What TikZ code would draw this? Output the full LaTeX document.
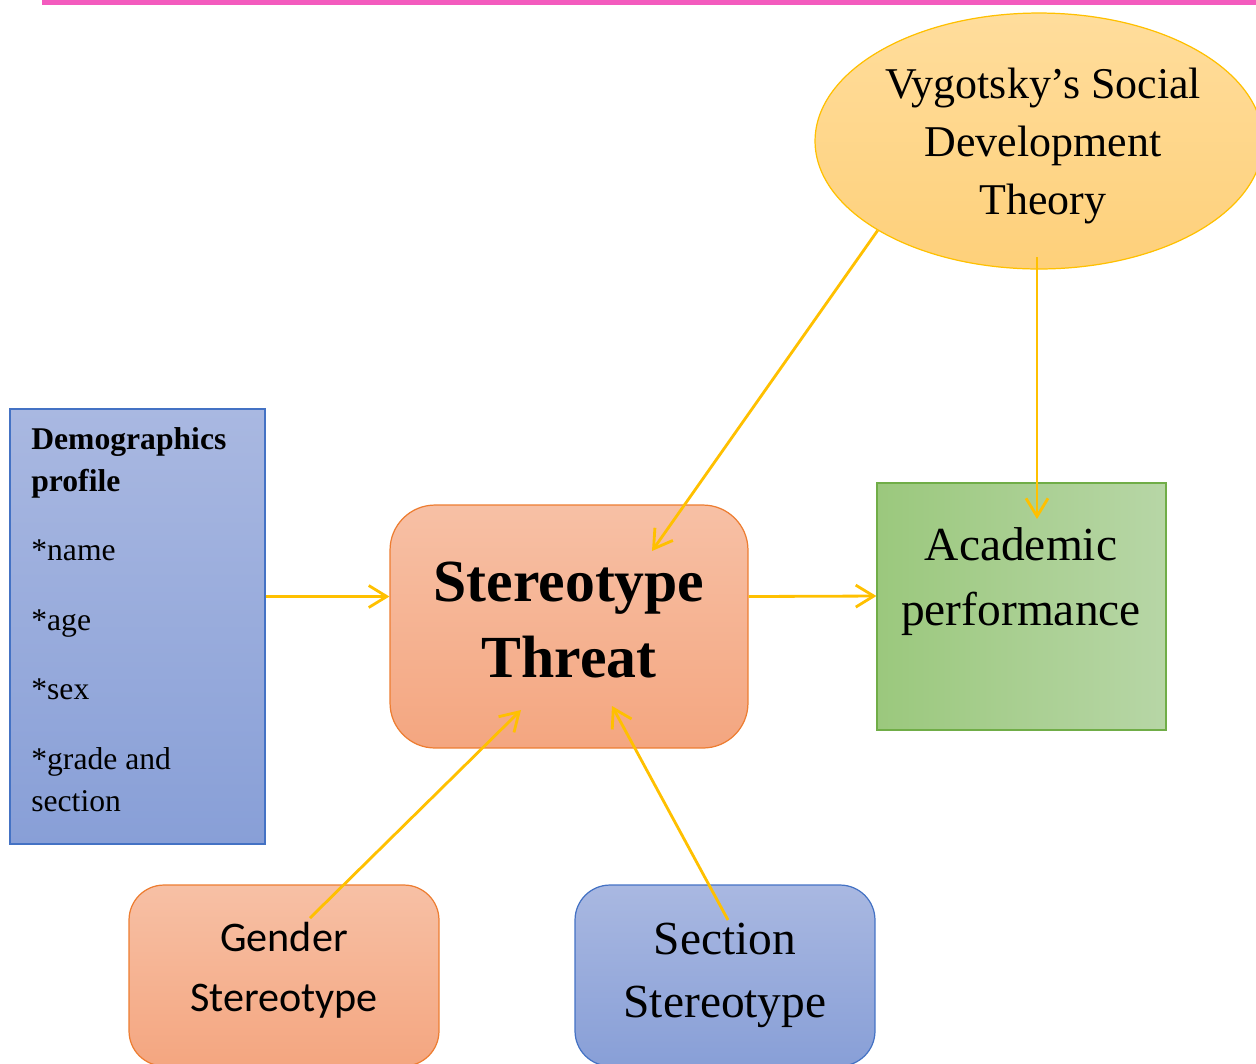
\documentclass[tikz,border=0pt]{standalone}
\usepackage{fontspec}
\setmainfont{Liberation Serif}
\newfontfamily\calibrifont{Carlito}
\usepackage{tikz}
\usetikzlibrary{positioning, shapes.geometric, arrows.meta}
\usepackage{xcolor}
\definecolor{pinkbar}{RGB}{243,91,190}
\definecolor{gold}{RGB}{255,192,0}
\definecolor{goldtop}{RGB}{255,221,156}
\definecolor{goldbot}{RGB}{254,208,122}
\definecolor{bluetop}{RGB}{169,184,225}
\definecolor{bluebot}{RGB}{136,159,215}
\definecolor{blueline}{RGB}{68,114,196}
\definecolor{orangetop}{RGB}{247,192,165}
\definecolor{orangebot}{RGB}{244,166,128}
\definecolor{orangeline}{RGB}{237,125,49}
\definecolor{greenleft}{RGB}{155,200,125}
\definecolor{greenright}{RGB}{183,214,166}
\definecolor{greenline}{RGB}{112,173,71}

\begin{document}
\begin{tikzpicture}[x=0.02cm, y=-0.02cm,
    bluebox/.style={rectangle, draw=blueline, line width=0.7pt,
      top color=bluetop, bottom color=bluebot, inner sep=0pt},
    orangebox/.style={rectangle, draw=orangeline, line width=0.7pt,
      top color=orangetop, bottom color=orangebot, inner sep=0pt},
    link/.style={draw=gold, line width=1.6pt,
      -{Straight Barb[length=0.36cm, width=0.44cm]}}]
  \clip (0,0) rectangle (1256,1063);
  \useasboundingbox (0,0) rectangle (1256,1063);
  \fill[pinkbar] (42,0) rectangle (1256,5);

  % theory at the top
  \node (vyg) [ellipse, draw=gold, line width=0.7pt, top color=goldtop,
    bottom color=goldbot, minimum width=8.96cm, minimum height=5.12cm,
    inner sep=0pt] at (1039,141) {};
  \node (vygtxt) [align=center, inner sep=0pt,
    font=\fontsize{25}{33}\selectfont] at (1043,146)
    {Vygotsky’s Social\\ Development\\ Theory};

  % demographics
  \node (demo) [bluebox, minimum width=5.1cm, minimum height=8.7cm]
    at (137.5,626.5) {};
  \node (demotxt) [anchor=north west, inner sep=0pt, align=left,
    font=\fontsize{18}{24}\selectfont] at (31,427)
    {\textbf{Demographics}\\ \textbf{profile}\\[15.5pt]
     *name\\[15.5pt] *age\\[15.5pt] *sex\\[15.5pt] *grade and\\ section};

  % central box
  \node (threat) [orangebox, rounded corners=0.9cm, minimum width=7.16cm,
    minimum height=4.86cm] at (569,626.5) {};
  \node (threattxt) [align=center, inner sep=0pt,
    font=\fontsize{34}{43}\selectfont\bfseries] at (569,620)
    {Stereotype\\ Threat};

  % outcome
  \node (acad) [rectangle, draw=greenline, line width=0.7pt,
    left color=greenleft, right color=greenright, minimum width=5.78cm,
    minimum height=4.94cm, inner sep=0pt] at (1021.5,606.5) {};
  \node (acadtxt) [align=center, inner sep=0pt,
    font=\fontsize{27}{37}\selectfont] at (1021,582)
    {Academic\\ performance};

  % stereotypes below
  \node (gender) [orangebox, rounded corners=0.7cm, minimum width=6.2cm,
    minimum height=3.62cm] at (284,975.5) {};
  \node (gendertxt) [align=center, inner sep=0pt,
    font=\calibrifont\fontsize{24}{34}\selectfont] at (284,970)
    {Gender\\ Stereotype};
  \node (section) [bluebox, rounded corners=0.7cm, minimum width=6cm,
    minimum height=3.62cm, align=center,
    font=\fontsize{27}{36}\selectfont] at (725,975.5)
    {Section\\ Stereotype};

  % arrow ends inside the boxes
  \coordinate (vygfoot) at (1037,257);
  \coordinate (acadtop) at (1037,519);
  \coordinate (threattop) at (652,551);
  \coordinate (gendertop) at (310,918);
  \coordinate (threatleft) at (521,710);
  \coordinate (sectiontop) at (728,920);
  \coordinate (threatright) at (612,706);

  \draw[link] ([yshift=0.6cm]demo.east) -- ([yshift=0.6cm]threat.west);
  \draw[link] ([yshift=0.6cm]threat.east) -- ([yshift=0.21cm]acad.west);
  \draw[link] (vyg.209) -- (threattop);
  \draw[link] (vygfoot) -- (acadtop);
  \draw[link] (gendertop) -- (threatleft);
  \draw[link] (sectiontop) -- (threatright);
\end{tikzpicture}
\end{document}
